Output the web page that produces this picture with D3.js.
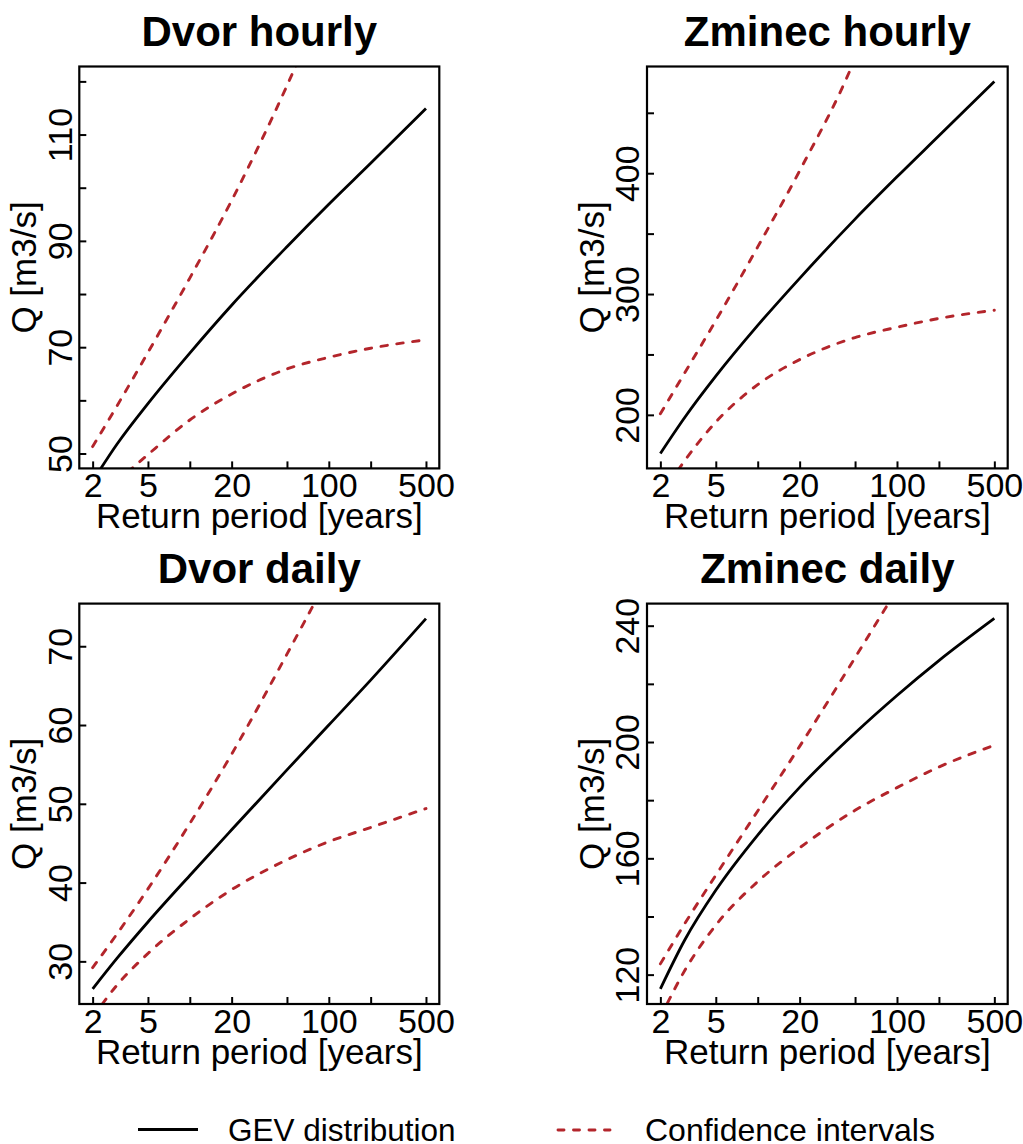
<!DOCTYPE html>
<html lang="en">
<head>
<meta charset="utf-8">
<title>GEV return periods</title>
<script src="https://d3js.org/d3.v7.min.js"></script>
<style>
    body { margin: 0; background: #fff; }
    svg { display: block; font-family: "Liberation Sans", Arial, Helvetica, sans-serif; }
</style>
</head>
<body>
<svg id="chart" width="1023" height="1144"></svg>
<script>
// ---- data ----
const returnPeriods = [2, 3, 5, 10, 20, 50, 100, 200, 500];
const xTicks = [2, 5, 10, 20, 50, 100, 200, 500];
const xTickLabels = [2, 5, 20, 100, 500];

const titles = ["Dvor hourly", "Zminec hourly", "Dvor daily", "Zminec daily"];

const dvorHourlyGev   = [44.8, 51.8, 59.4, 68.9, 77.9, 88.9, 96.9, 104.6, 114.9];
const dvorHourlyUpper = [51.3, 59.0, 69.0, 83.0, 97.6, 119.2, 137.5, 158, 188];
const dvorHourlyLower = [40.3, 44.7, 49.8, 56.3, 61.2, 65.9, 68.1, 69.8, 71.4];

const zminecHourlyGev   = [168, 198, 232, 274, 313, 362, 397, 431, 476];
const zminecHourlyUpper = [200.9, 235, 278, 339, 402, 495, 590, 690, 830];
const zminecHourlyLower = [132, 162.3, 194.0, 225.0, 245.7, 264.0, 272.5, 279.8, 286.6];

const dvorDailyGev   = [26.5, 30.4, 35.0, 40.9, 46.7, 54.3, 60.0, 65.7, 73.5];
const dvorDailyUpper = [29.2, 33.5, 39.2, 47.5, 56.3, 69.0, 79.0, 90, 105];
const dvorDailyLower = [22.9, 27.0, 31.0, 35.4, 39.1, 42.9, 45.2, 47.0, 49.4];

const zminecDailyGev   = [115.1, 132.0, 149.0, 168.0, 184.4, 203.1, 216.0, 228.0, 242.5];
const zminecDailyUpper = [123.7, 137.6, 154.2, 176.3, 198.5, 229.0, 252.5, 276, 307];
const zminecDailyLower = [105.3, 121.5, 137.0, 152.0, 163.6, 176.5, 184.3, 191.4, 198.9];

// y limits (before the usual 4% padding) and ticks
const yLimits = [[50, 120], [168, 476], [26.47, 73.53], [115, 242.5]];
const yTicks = [
    [50, 60, 70, 80, 90, 100, 110, 120],
    [200, 250, 300, 350, 400, 450],
    [30, 40, 50, 60, 70],
    [120, 140, 160, 180, 200, 220, 240]
];
const yTickLabels = [
    [50, 70, 90, 110],
    [200, 300, 400],
    [30, 40, 50, 60, 70],
    [120, 160, 200, 240]
];

const xTitle = "Return period [years]";
const yTitle = "Q [m3/s]";
const legendLabels = ["GEV distribution", "Confidence intervals"];

const panels = [
    { gev: dvorHourlyGev, upper: dvorHourlyUpper, lower: dvorHourlyLower },
    { gev: zminecHourlyGev, upper: zminecHourlyUpper, lower: zminecHourlyLower },
    { gev: dvorDailyGev, upper: dvorDailyUpper, lower: dvorDailyLower },
    { gev: zminecDailyGev, upper: zminecDailyUpper, lower: zminecDailyLower }
];

// ---- layout ----
const cols = [[79.3, 439.3], [647, 1007.7]];
const rows = [[66.5, 468.4], [603.6, 1004]];
const red = "#b3252b";
const tick = 7;
const dash = "6.5,9.5";
const svg = d3.select("#chart");
svg.append("rect").attr("width", 1023).attr("height", 1144).attr("fill", "#fff");

// R style axis padding: 4% on each side
function pad(lo, hi) { const d = (hi - lo) * 0.04; return [lo - d, hi + d]; }

panels.forEach((p, i) => {
    const [x0, x1] = cols[i % 2];
    const [y0, y1] = rows[Math.floor(i / 2)];

    const lx = pad(Math.log10(2), Math.log10(500));
    const x = d3.scaleLog().domain([Math.pow(10, lx[0]), Math.pow(10, lx[1])]).range([x0, x1]);
    const y = d3.scaleLinear().domain(pad(yLimits[i][0], yLimits[i][1])).range([y1, y0]);

    const g = svg.append("g");

    g.append("clipPath").attr("id", "clip" + i)
        .append("rect").attr("x", x0).attr("y", y0).attr("width", x1 - x0).attr("height", y1 - y0);

    const line = vals => d3.line()
        .x((d, k) => x(returnPeriods[k]))
        .y(d => y(d))
        .curve(d3.curveMonotoneX)(vals);

    const plot = g.append("g").attr("clip-path", `url(#clip${i})`);
    [p.upper, p.lower].forEach(vals => {
        plot.append("path").attr("d", line(vals))
            .attr("fill", "none").attr("stroke", red).attr("stroke-width", 2.9)
            .attr("stroke-dasharray", dash).attr("stroke-linecap", "round");
    });
    plot.append("path").attr("d", line(p.gev))
        .attr("fill", "none").attr("stroke", "#000").attr("stroke-width", 2.8);

    // x axis (ticks pointing inward)
    const xAxis = g.append("g")
        .attr("transform", `translate(0,${y1})`)
        .call(d3.axisBottom(x).tickValues(xTicks).tickSize(-tick)
            .tickFormat(d => xTickLabels.includes(d) ? d : ""));
    xAxis.select(".domain").remove();
    xAxis.selectAll("line").attr("stroke-width", 2);
    xAxis.selectAll("text").attr("y", 28.5).attr("dy", null)
        .attr("font-size", 34).attr("font-family", null).attr("fill", "#000");

    // y axis (ticks pointing inward, labels rotated)
    const yAxis = g.append("g")
        .attr("transform", `translate(${x0},0)`)
        .call(d3.axisLeft(y).tickValues(yTicks[i]).tickSize(-tick)
            .tickFormat(d => yTickLabels[i].includes(d) ? d : ""));
    yAxis.select(".domain").remove();
    yAxis.selectAll("line").attr("stroke-width", 2);
    yAxis.selectAll("text")
        .attr("transform", "rotate(-90)")
        .attr("x", 0).attr("y", -7.6).attr("dy", null)
        .attr("text-anchor", "middle")
        .attr("font-size", 34).attr("font-family", null).attr("fill", "#000");

    // frame
    g.append("rect").attr("x", x0).attr("y", y0)
        .attr("width", x1 - x0).attr("height", y1 - y0)
        .attr("fill", "none").attr("stroke", "#000").attr("stroke-width", 2.2);

    // titles
    const cx = (x0 + x1) / 2, cy = (y0 + y1) / 2;
    g.append("text").attr("x", cx).attr("y", y0 - 21)
        .attr("text-anchor", "middle").attr("font-size", 42).attr("font-weight", "bold")
        .text(titles[i]);
    g.append("text").attr("x", cx).attr("y", y1 + 59.5)
        .attr("text-anchor", "middle").attr("font-size", 35)
        .text(xTitle);
    g.append("text")
        .attr("transform", `translate(${x0 - 43},${cy}) rotate(-90)`)
        .attr("text-anchor", "middle").attr("font-size", 35)
        .text(yTitle);
});

// ---- legend ----
const legend = svg.append("g");
legend.append("line").attr("x1", 138).attr("x2", 198).attr("y1", 1129.5).attr("y2", 1129.5)
    .attr("stroke", "#000").attr("stroke-width", 2.8);
legend.append("text").attr("x", 228).attr("y", 1141).attr("font-size", 31.5).text(legendLabels[0]);
legend.append("line").attr("x1", 558).attr("x2", 610).attr("y1", 1130).attr("y2", 1130)
    .attr("stroke", red).attr("stroke-width", 2.9)
    .attr("stroke-dasharray", "6,9.5").attr("stroke-linecap", "round");
legend.append("text").attr("x", 645).attr("y", 1141).attr("font-size", 32).text(legendLabels[1]);
</script>
</body>
</html>
